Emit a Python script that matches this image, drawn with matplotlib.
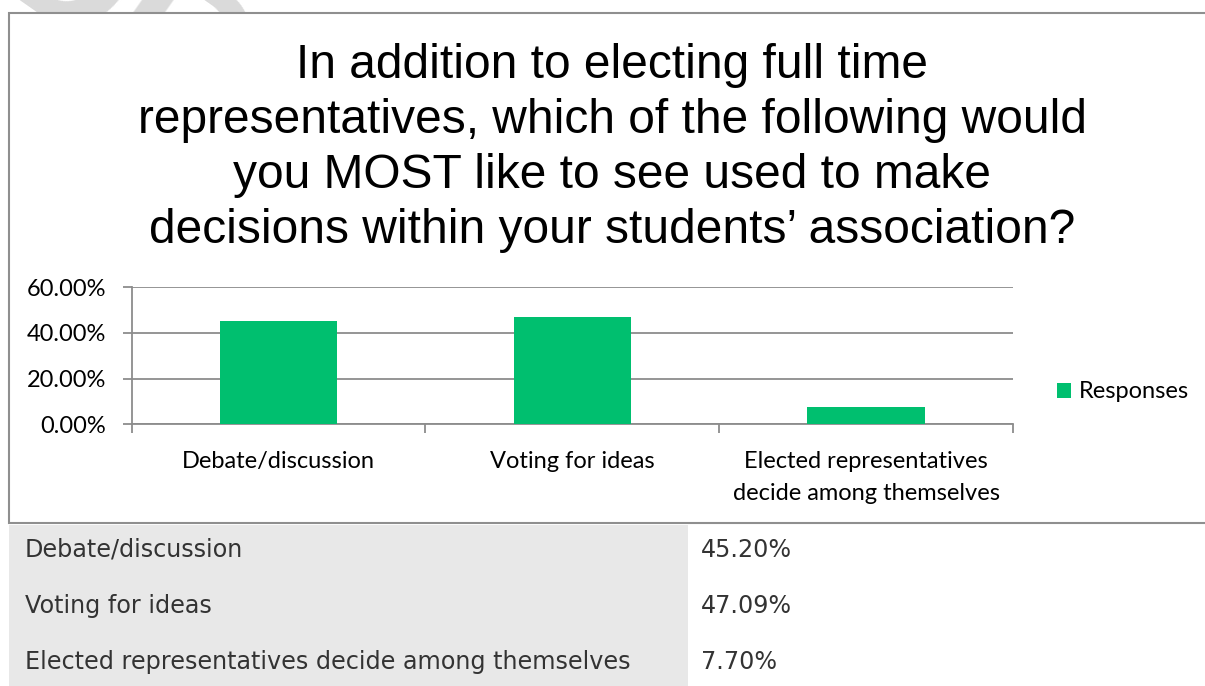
import matplotlib.pyplot as plt
from matplotlib.patches import Rectangle

# survey answers
categories = ["Debate/discussion", "Voting for ideas",
              "Elected representatives decide among themselves"]
axis_labels = ["Debate/discussion", "Voting for ideas",
               "Elected representatives\ndecide among themselves"]
responses = [45.20, 47.09, 7.70]
y_ticks = [0, 20, 40, 60]

title = ("In addition to electing full time\n"
         "representatives, which of the following would\n"
         "you MOST like to see used to make\n"
         "decisions within your students\u2019 association?")

W, H = 1205, 686
GREEN = "#00bf6f"
GRID = "#8c8c8c"


def px(x, y):
    # pixel position (top-left origin) to figure fraction
    return x / W, 1 - y / H


fig = plt.figure(figsize=(W / 100, H / 100), dpi=100)

# faint watermark, mostly hidden behind the chart frame
fig.text(*px(260, 120), "DRAFT", fontsize=130, color="#dadada",
         rotation=-35, ha="center", va="center", family="Liberation Sans",
         fontweight="bold", zorder=0)

# chart frame
x0, y0 = px(8.5, 523)
x1, y1 = px(1215, 13)
fig.patches.append(Rectangle((x0, y0), x1 - x0, y1 - y0, transform=fig.transFigure,
                             facecolor="white", edgecolor="#8f8f8f", lw=1.5, zorder=1))

# baseline of the last title line
fig.text(*px(612, 243), title, ha="center", va="baseline", fontsize=34.5,
         family="Liberation Sans", linespacing=1.29, zorder=3)

ax_l, ax_b = px(131.7, 424.3)
ax = fig.add_axes([ax_l, ax_b, (1013 - 131.7) / W, 137 / H], zorder=3)
ax.patch.set_alpha(0)
x = range(len(responses))
ax.bar(x, responses, width=0.4, color=GREEN, label="Responses", zorder=3)
ax.set_xlim(-0.5, len(responses) - 0.5)
ax.set_ylim(0, 60)
ax.set_yticks(y_ticks)
ax.set_yticklabels([f"{v:.2f}%" for v in y_ticks])
ax.yaxis.grid(True, color=GRID, lw=1.3)
ax.set_axisbelow(True)
ax.set_xticks([i - 0.5 for i in range(len(responses) + 1)])
ax.set_xticklabels([])
ax.set_xticks(list(x), minor=True)
ax.set_xticklabels(axis_labels, minor=True, fontsize=17, family="Lato",
                   linespacing=1.67, va="top")
ax.tick_params(axis="x", which="minor", length=0, pad=19)
ax.tick_params(axis="x", which="major", length=6.3, color=GRID, width=1.3)
ax.tick_params(axis="y", length=6.3, color=GRID, width=1.3, labelsize=17, pad=12)
for lab in ax.get_yticklabels():
    lab.set_family("Lato")
for side in ("top", "right"):
    ax.spines[side].set_visible(False)
for side in ("left", "bottom"):
    ax.spines[side].set_color(GRID)
    ax.spines[side].set_linewidth(1.3)

fig.legend(loc="center left", bbox_to_anchor=px(1056.5, 392), frameon=False,
           prop={"family": "Lato", "size": 17}, handlelength=0.6,
           handleheight=0.6, handletextpad=0.33, borderaxespad=0, borderpad=0)

# table of values below the chart
row_h = 56
top = 525
gx, gy = px(9, H)
gx2, _ = px(688, H)
fig.patches.append(Rectangle((gx, gy), gx2 - gx, (H - top) / H,
                             transform=fig.transFigure, facecolor="#e8e8e8",
                             edgecolor="none", zorder=1))
for i, (name, val) in enumerate(zip(categories, responses)):
    base = 556.7 + i * row_h
    fig.text(*px(25, base), name, fontsize=17.2, color="#333333", va="baseline",
             family="DejaVu Sans", zorder=3)
    fig.text(*px(701, base), f"{val:.2f}%", fontsize=17.2, color="#333333",
             va="baseline", family="DejaVu Sans", zorder=3)

fig.savefig("out.png", dpi=100)
